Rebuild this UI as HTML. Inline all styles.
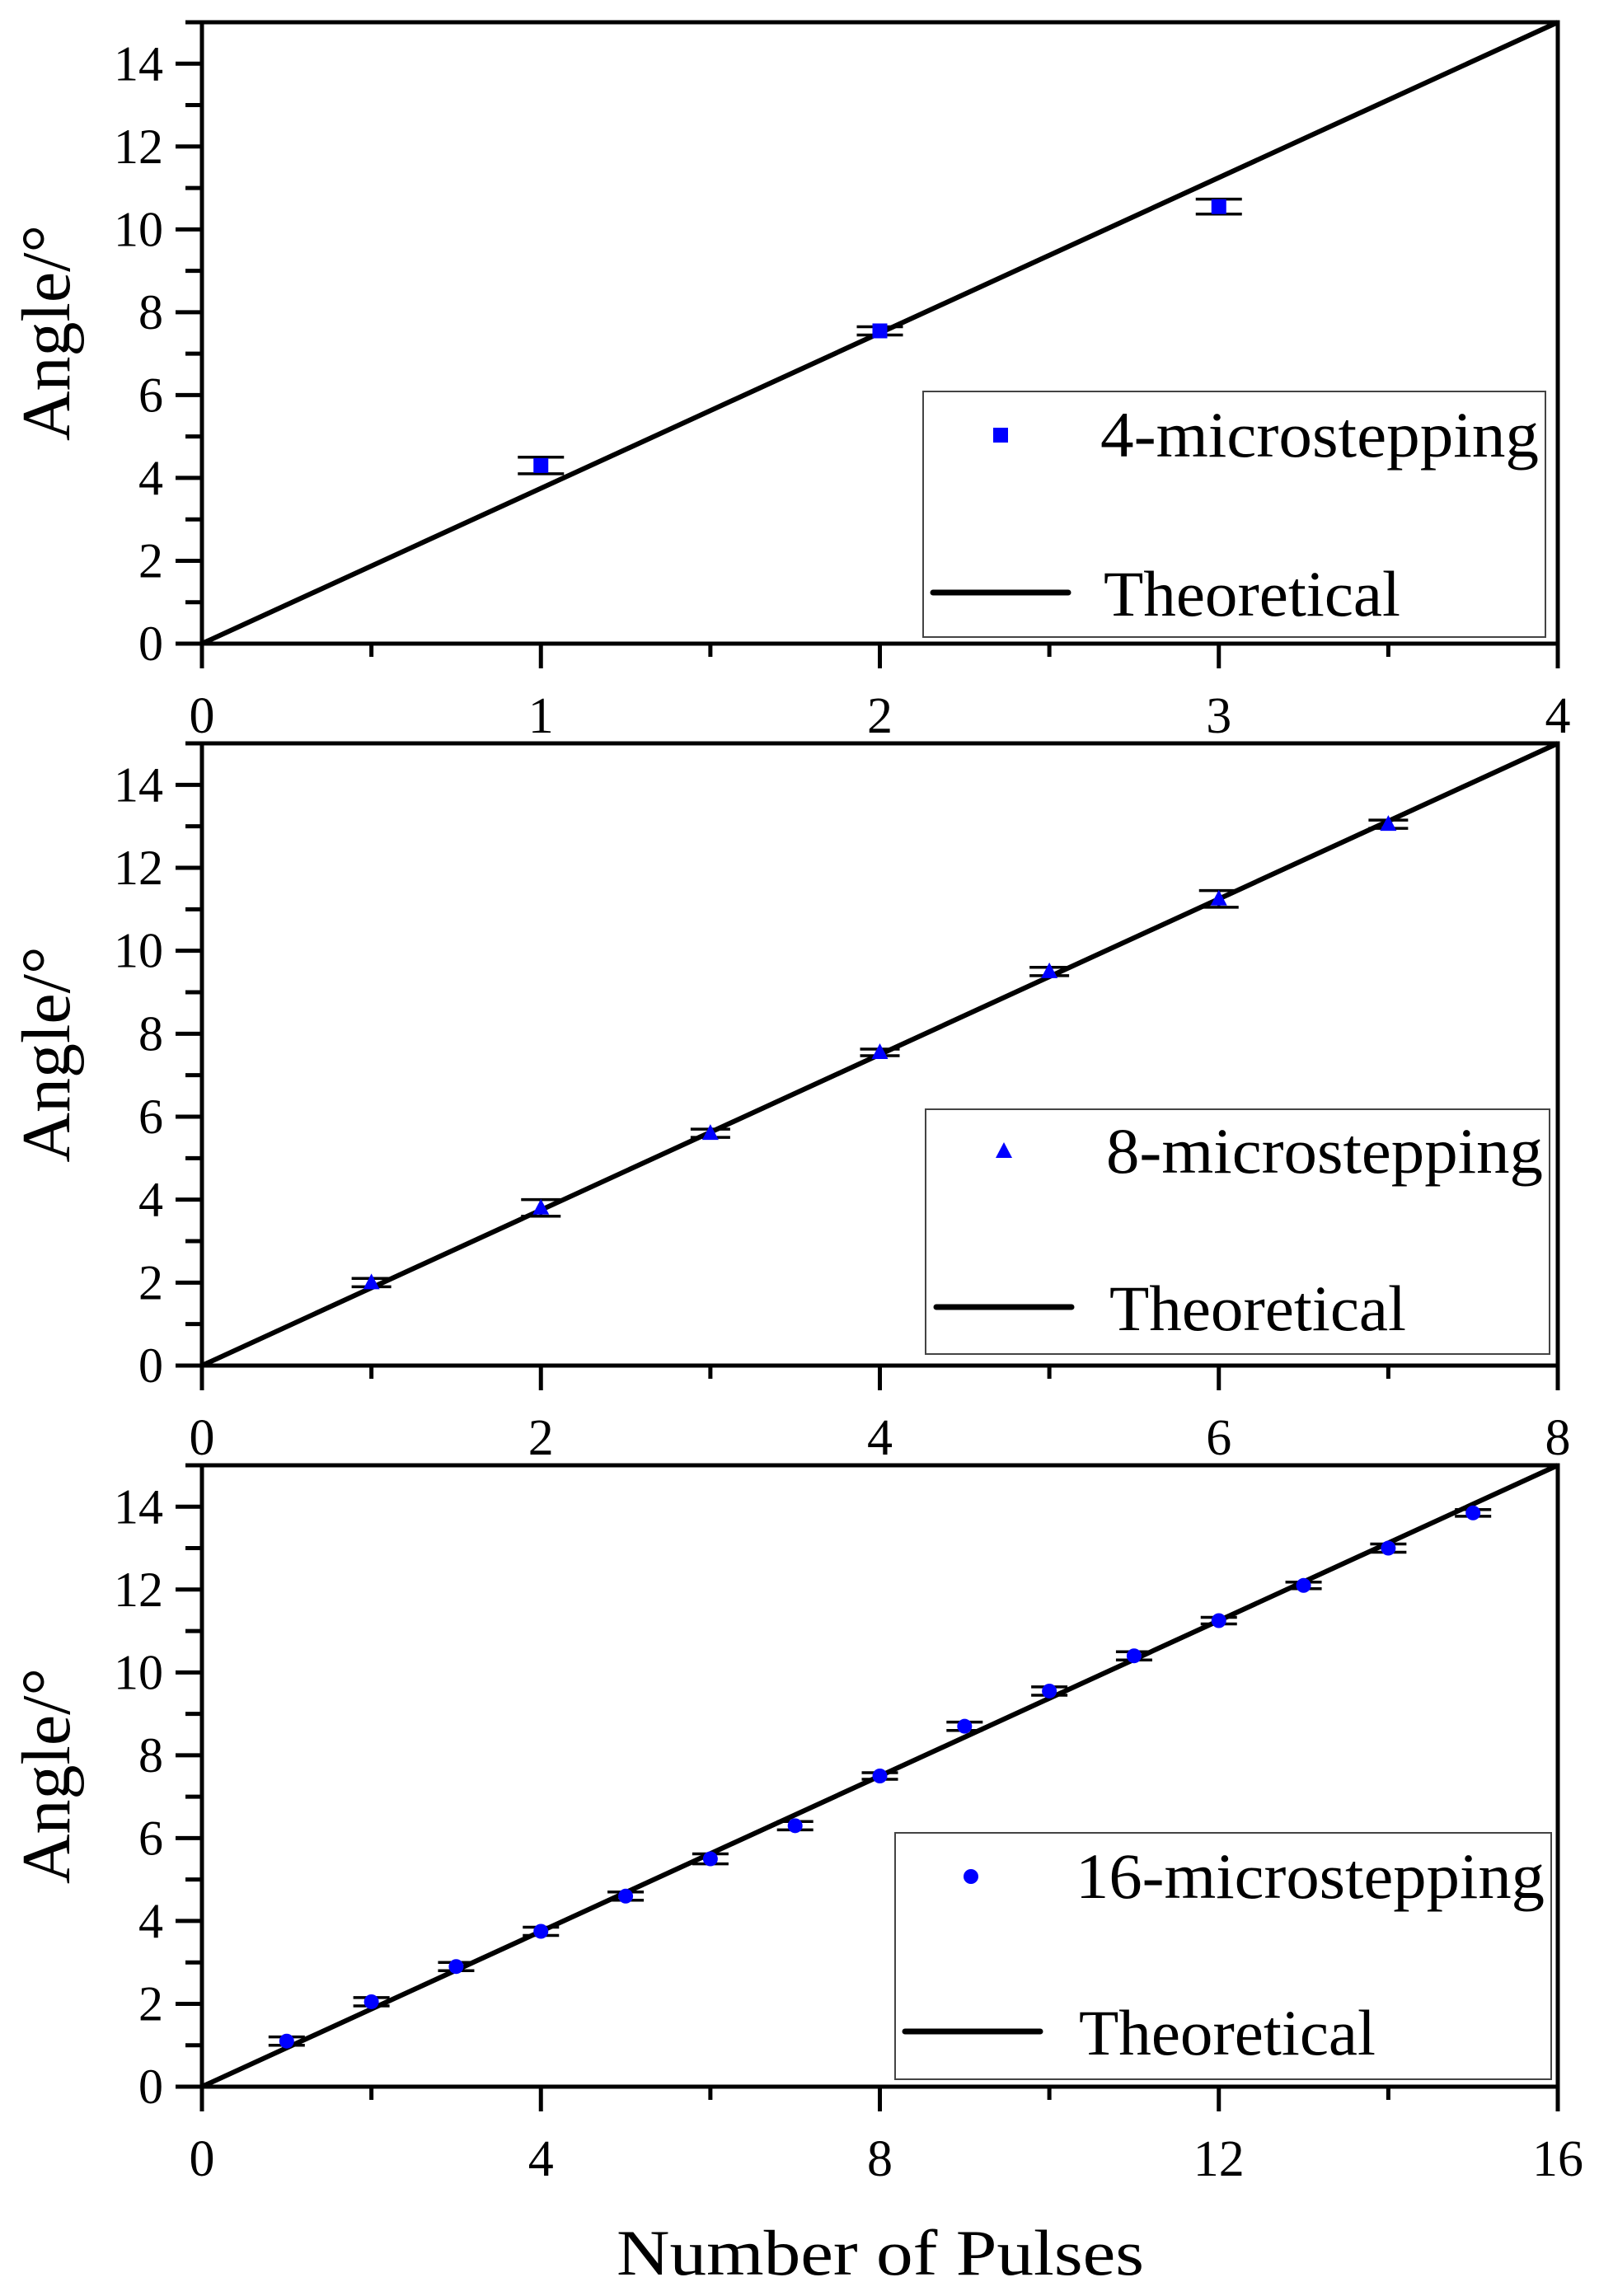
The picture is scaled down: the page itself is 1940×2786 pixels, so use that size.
<!DOCTYPE html>
<html><head><meta charset="utf-8"><style>
html,body{margin:0;padding:0;background:#fff;}
svg{display:block;font-family:"Liberation Serif",serif;}
svg text{font-family:"Liberation Serif",serif;}
</style></head><body>
<svg id="chart" width="1940" height="2786" viewBox="0 0 1940 2786" xmlns="http://www.w3.org/2000/svg" font-family="Liberation Serif, serif"></svg>
<script>
const xs4 = [1, 2, 3];
const ys4 = [4.3, 7.55, 10.55];
const es4 = [0.2, 0.1, 0.18];
const xs8 = [1, 2, 3, 4, 5, 6, 7];
const ys8 = [2.0, 3.8, 5.6, 7.55, 9.5, 11.25, 13.05];
const es8 = [0.1, 0.2, 0.1, 0.08, 0.1, 0.2, 0.1];
const xs16 = [1,2,3,4,5,6,7,8,9,10,11,12,13,14,15];
const ys16 = [1.1,2.05,2.9,3.75,4.6,5.5,6.3,7.5,8.7,9.55,10.4,11.25,12.1,13.0,13.85];
const es16 = [0.1,0.1,0.1,0.1,0.1,0.12,0.1,0.08,0.1,0.1,0.1,0.08,0.08,0.1,0.08];
const xTicks4 = [0, 1, 2, 3, 4];
const xTicks8 = [0, 2, 4, 6, 8];
const xTicks16 = [0, 4, 8, 12, 16];
const yTicks = [0, 2, 4, 6, 8, 10, 12, 14];
const labels = ["4-microstepping", "8-microstepping", "16-microstepping"];

const NS = "http://www.w3.org/2000/svg";
const svg = document.getElementById('chart');
function el(tag, attrs, parent, text){
  const e = document.createElementNS(NS, tag);
  for (const k in attrs) e.setAttribute(k, attrs[k]);
  if (tag === 'text') e.setAttribute('font-family', 'Liberation Serif, serif');
  if (text !== undefined) e.textContent = text;
  (parent || svg).appendChild(e);
  return e;
}
const L = 245, R = 1890;
const panels = [
  {top:27, bot:781, xmax:4, xt:xTicks4, minor:0.5, xs:xs4, ys:ys4, es:es4, sym:'square', cap:28,
   leg:{x:1120,y:475,w:755,h:298, sx:1214, sy:528, tx:1335, lx1:1132, lx2:1296, ly:719}},
  {top:902, bot:1657, xmax:8, xt:xTicks8, minor:1, xs:xs8, ys:ys8, es:es8, sym:'triangle', cap:24,
   leg:{x:1123,y:1346,w:757,h:297, sx:1218, sy:1397, tx:1342, lx1:1136, lx2:1300, ly:1586}},
  {top:1778, bot:2532, xmax:16, xt:xTicks16, minor:2, xs:xs16, ys:ys16, es:es16, sym:'circle', cap:22,
   leg:{x:1086,y:2224,w:796,h:299, sx:1178, sy:2277, tx:1305, lx1:1098, lx2:1262, ly:2465}}
];
panels.forEach((p, i) => {
  const g = el('g', {});
  
  
  const sx = v => L + (R - L) * v / p.xmax;
  const sy = v => p.bot - (p.bot - p.top) * v / 15;
  const fr = el('rect', {x:L, y:p.top, width:R-L, height:p.bot-p.top, fill:'none', stroke:'#000', 'stroke-width':5}, g);
  
  
  for (let v = 0; v <= 15; v++) {
    const major = v % 2 === 0;
    el('line', {x1:L - (major ? 32 : 20), x2:L, y1:sy(v), y2:sy(v), stroke:'#000', 'stroke-width':5}, g);
  }
  yTicks.forEach(v => {
    const t = el('text', {x:198, y:sy(v) + 20, 'text-anchor':'end', 'font-size':60}, g, String(v));
    
    
  });
  for (let v = 0; v <= p.xmax + 1e-9; v += p.minor) {
    const major = p.xt.some(t => Math.abs(t - v) < 1e-9);
    el('line', {x1:sx(v), x2:sx(v), y1:p.bot, y2:p.bot + (major ? 30 : 16), stroke:'#000', 'stroke-width':5}, g);
  }
  p.xt.forEach(v => {
    const t = el('text', {x:sx(v), y:p.bot + 108, 'text-anchor':'middle', 'font-size':62}, g, String(v));
    
    
  });
  const yc = (p.top + p.bot) / 2;
  const yt = el('text', {x:0, y:0, transform:`translate(84 ${yc}) rotate(-90)`, 'text-anchor':'middle', 'font-size':84}, g, 'Angle/°');
  
  
  const th = el('line', {x1:sx(0), y1:sy(0), x2:sx(p.xmax), y2:sy(15), stroke:'#000', 'stroke-width':6}, g);
  
  
  p.xs.forEach((x, j) => {
    const cx = sx(x), cy = sy(p.ys[j]);
    const eb = el('g', {stroke:'#000', 'stroke-width':3.5}, g);
    
    
    const y1 = sy(p.ys[j] + p.es[j]), y2 = sy(p.ys[j] - p.es[j]);
    el('line', {x1:cx, x2:cx, y1:y1, y2:y2}, eb);
    el('line', {x1:cx - p.cap, x2:cx + p.cap, y1:y1, y2:y1}, eb);
    el('line', {x1:cx - p.cap, x2:cx + p.cap, y1:y2, y2:y2}, eb);
    let m;
    if (p.sym === 'square') m = el('rect', {x:cx - 9, y:cy - 9, width:18, height:18, fill:'#0000ff'}, g);
    else if (p.sym === 'triangle') m = el('polygon', {points:`${cx},${cy-11} ${cx-10},${cy+8} ${cx+10},${cy+8}`, fill:'#0000ff'}, g);
    else m = el('circle', {cx:cx, cy:cy, r:9, fill:'#0000ff'}, g);
    
    
  });
  const lg = p.leg;
  const leg = el('g', {}, g);
  
  
  el('rect', {x:lg.x, y:lg.y, width:lg.w, height:lg.h, fill:'#fff', stroke:'#444', 'stroke-width':2}, leg);
  let m;
  if (p.sym === 'square') m = el('rect', {x:lg.sx - 9, y:lg.sy - 9, width:18, height:18, fill:'#0000ff'}, leg);
  else if (p.sym === 'triangle') m = el('polygon', {points:`${lg.sx},${lg.sy-11} ${lg.sx-10},${lg.sy+8} ${lg.sx+10},${lg.sy+8}`, fill:'#0000ff'}, leg);
  else m = el('circle', {cx:lg.sx, cy:lg.sy, r:9, fill:'#0000ff'}, leg);
  
  
  const t1 = el('text', {x:lg.tx, y:lg.sy + 26, 'font-size':78, textLength: lg.x + lg.w - lg.tx - 8, lengthAdjust:'spacingAndGlyphs'}, leg, labels[i]);
  
  
  el('line', {x1:lg.lx1, x2:lg.lx2, y1:lg.ly, y2:lg.ly, stroke:'#000', 'stroke-width':7, 'stroke-linecap':'round'}, leg);
  const t2 = el('text', {x:lg.tx + 4, y:lg.ly + 28, 'font-size':78, textLength:360, lengthAdjust:'spacingAndGlyphs'}, leg, 'Theoretical');
  
  
});
const xt = el('text', {x:1068, y:2760, 'text-anchor':'middle', 'font-size':78, textLength:640, lengthAdjust:'spacingAndGlyphs'}, svg, 'Number of Pulses');


</script>
</body></html>
